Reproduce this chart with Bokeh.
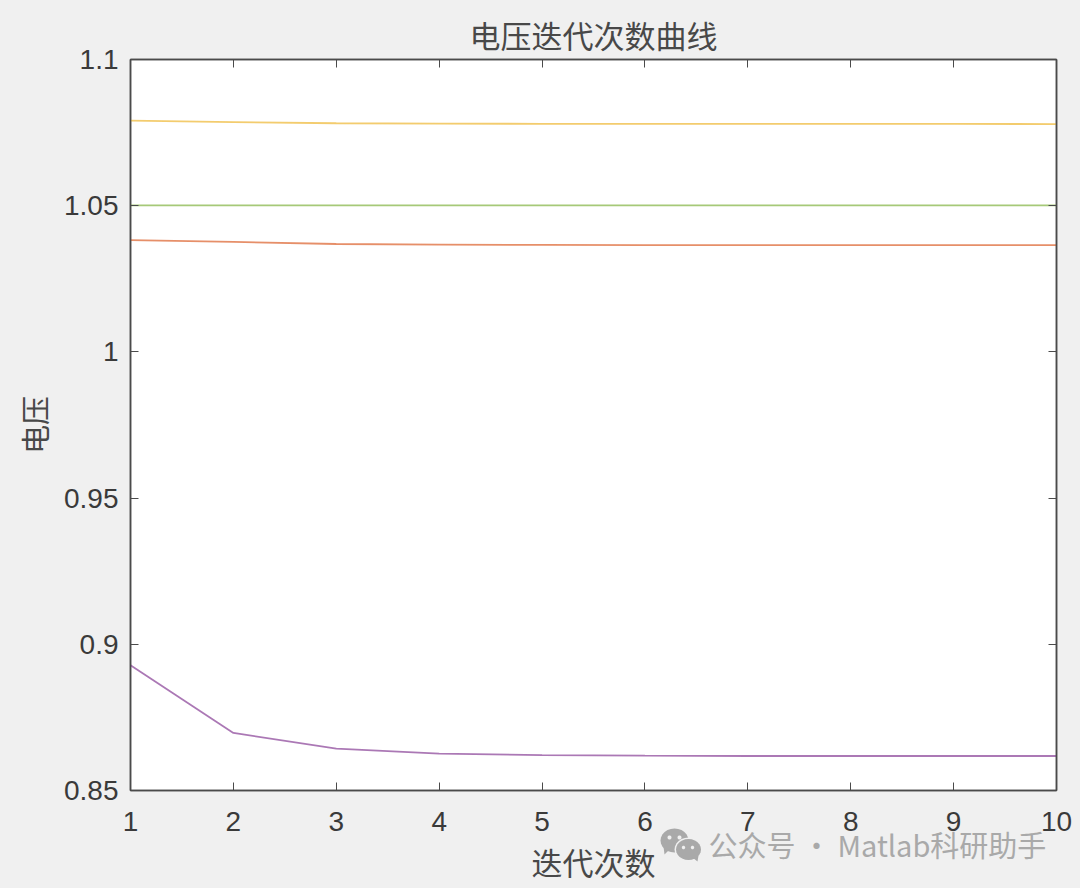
import math
from bokeh.plotting import figure
from bokeh.models import LinearAxis, FixedTicker, Label, PolyAnnotation, Range1d
from bokeh.embed import file_html
from bokeh.resources import INLINE

iterations = [1, 2, 3, 4, 5, 6, 7, 8, 9, 10]
v_yellow = [1.0791, 1.0786, 1.0782, 1.0781, 1.0780, 1.0780, 1.0780, 1.0780, 1.0780, 1.0779]
v_green = [1.0501, 1.0501, 1.0501, 1.0501, 1.0501, 1.0501, 1.0501, 1.0501, 1.0501, 1.0501]
v_orange = [1.0382, 1.0376, 1.0369, 1.0367, 1.0366, 1.0365, 1.0365, 1.0365, 1.0365, 1.0365]
v_purple = [0.8928, 0.8697, 0.8643, 0.8626, 0.8621, 0.8619, 0.8618, 0.8618, 0.8618, 0.8618]
x_ticks = [1, 2, 3, 4, 5, 6, 7, 8, 9, 10]
y_ticks = [0.85, 0.9, 0.95, 1, 1.05, 1.1]
y_labels = ["0.85", "0.9", "0.95", "1", "1.05", "1.1"]
title_text = "电压迭代次数曲线"
x_title = "迭代次数"
y_title = "电压"
watermark = "公众号 · Matlab科研助手"

BG = "#f0f0f0"
AX = "#4a4a4a"
TXT = "#3a3a3a"
TXT_CJK = "#484848"
MARK = "#a9a9a9"
CJK = "Noto Sans CJK SC"
SANS = "Liberation Sans"
W, H = 1080, 888

p = figure(width=W, height=H, output_backend="svg", toolbar_location=None,
           x_range=Range1d(1, 10), y_range=Range1d(0.85, 1.1),
           title=title_text,
           min_border_left=130, min_border_right=24, min_border_top=59, min_border_bottom=98,
           background_fill_color="white", border_fill_color=BG)
p.grid.visible = False
p.outline_line_color = AX
p.outline_line_width = 1.5
p.title.align = "center"
p.title.text_font = CJK
p.title.text_font_size = "31px"
p.title.text_font_style = "normal"
p.title.text_color = TXT_CJK
p.title.offset = 3
p.title.standoff = 6

for vals, col in [(v_yellow, "#EDB120"), (v_green, "#77AC30"), (v_orange, "#D95319"), (v_purple, "#7E2F8E")]:
    p.line(iterations, vals, line_color=col, line_width=1.8, line_alpha=0.65)

def style(ax, labels):
    ax.axis_line_color = AX
    ax.axis_line_width = 1.5
    ax.major_tick_line_color = AX
    ax.major_tick_line_width = 1
    ax.major_tick_in = 8
    ax.major_tick_out = 0
    ax.minor_tick_line_color = None
    ax.major_label_text_font = SANS
    ax.major_label_text_font_size = "28px"
    ax.major_label_text_color = TXT
    if not labels:
        ax.major_label_text_font_size = "0px"
        ax.major_label_text_color = None

xa = p.xaxis[0]
xa.ticker = FixedTicker(ticks=x_ticks)
style(xa, True)
xa.major_label_standoff = 21
xa.axis_label = x_title
xa.axis_label_text_font = CJK
xa.axis_label_text_font_size = "31px"
xa.axis_label_text_font_style = "normal"
xa.axis_label_text_color = TXT_CJK
xa.axis_label_standoff = 5

ya = p.yaxis[0]
ya.ticker = FixedTicker(ticks=y_ticks)
ya.major_label_overrides = dict(zip(y_ticks, y_labels))
style(ya, True)
ya.major_label_standoff = 12
ya.axis_label = y_title
ya.axis_label_text_font = CJK
ya.axis_label_text_font_size = "29px"
ya.axis_label_text_font_style = "normal"
ya.axis_label_text_color = TXT_CJK
ya.axis_label_standoff = 6

top = LinearAxis(ticker=FixedTicker(ticks=x_ticks))
style(top, False)
p.add_layout(top, "above")
right = LinearAxis(ticker=FixedTicker(ticks=y_ticks))
style(right, False)
p.add_layout(right, "right")

# Transparent page-sized layer for the watermark, which straddles the axis labels.
q = figure(width=W, height=H, output_backend="svg", toolbar_location=None,
           x_range=Range1d(0, W), y_range=Range1d(H, 0),
           min_border=0, x_axis_location=None, y_axis_location=None,
           background_fill_alpha=0, border_fill_alpha=0, outline_line_color=None,
           styles={"position": "absolute", "left": "0px", "top": "0px", "pointer-events": "none"})
q.grid.visible = False

q.add_layout(Label(x=708, y=843, text=watermark, text_font=CJK, text_font_size="29px",
                   text_color=MARK, text_align="left", text_baseline="middle"))

def poly(xs, ys, color):
    q.add_layout(PolyAnnotation(xs=xs, ys=ys, fill_color=color, fill_alpha=1, line_color=None))

def blob(cx, cy, rx, ry, color):
    n = 24
    poly([cx + rx * math.cos(t / n * 2 * math.pi) for t in range(n)],
         [cy + ry * math.sin(t / n * 2 * math.pi) for t in range(n)], color)

blob(674, 840, 14, 12, MARK)
poly([663, 669, 664], [846, 849, 854], MARK)
blob(688, 849, 14, 12, BG)
blob(688, 849, 12.5, 10.5, MARK)
poly([692, 698, 697], [857, 855, 861], MARK)
for cx, cy, r, c in [(669, 837, 2, BG), (679, 837, 2, BG), (683, 847, 1.7, BG), (692, 847, 1.7, BG)]:
    blob(cx, cy, r, r, c)

html = file_html([p, q], INLINE, title=title_text)
html = html.replace("<head>", "<head><style>html,body{background:#f0f0f0;margin:0;}</style>", 1)
open("out.html", "w", encoding="utf-8").write(html)
